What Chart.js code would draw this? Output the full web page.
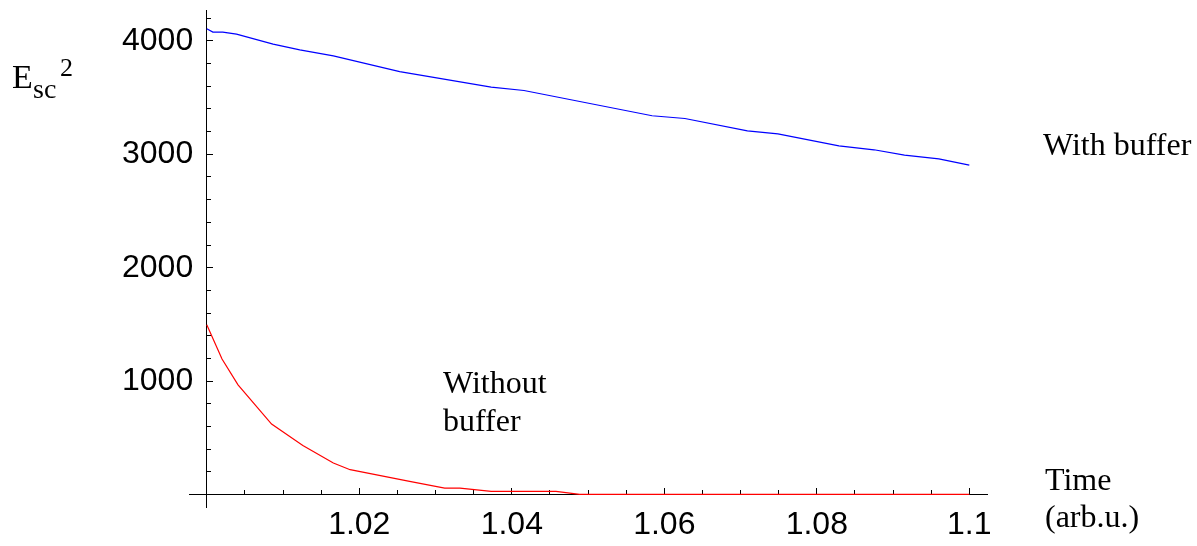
<!DOCTYPE html>
<html>
<head>
<meta charset="utf-8">
<script src="https://cdn.jsdelivr.net/npm/chart.js@4.4.0/dist/chart.umd.min.js"></script>
<style>
  html, body { margin: 0; padding: 0; background: #fff; }
</style>
</head>
<body>
<canvas id="chart" width="1197" height="546"></canvas>
<script>
// E_sc^2 against time, with and without the buffer
const timeWith = [1.0, 1.0008, 1.0021, 1.0039, 1.0087, 1.0122, 1.0166, 1.0253, 1.0373, 1.0416,
  1.0584, 1.0627, 1.0709, 1.0749, 1.0829, 1.0875, 1.0915, 1.0960, 1.1];
const energyWith = [4107, 4078, 4078, 4060, 3972, 3921, 3869, 3730, 3593, 3563,
  3340, 3316, 3207, 3181, 3075, 3040, 2993, 2960, 2905];

const timeWithout = [1.0, 1.0020, 1.0041, 1.0085, 1.0126, 1.0166, 1.0188, 1.0266, 1.0312,
  1.0332, 1.0373, 1.0458, 1.0489, 1.1];
const energyWithout = [1496, 1194, 967, 621, 432, 277, 218, 115, 56, 56, 26, 26, 0, 0];

// axis ticks
const xMajor = [1.0, 1.02, 1.04, 1.06, 1.08, 1.1];
const xMajorLabels = ['', '1.02', '1.04', '1.06', '1.08', '1.1'];
const xMinor = [1.005, 1.01, 1.015, 1.025, 1.03, 1.035, 1.045, 1.05, 1.055,
  1.065, 1.07, 1.075, 1.085, 1.09, 1.095];
const yMajor = [0, 1000, 2000, 3000, 4000];
const yMajorLabels = ['', '1000', '2000', '3000', '4000'];
const yMinor = [200, 400, 600, 800, 1200, 1400, 1600, 1800, 2200, 2400, 2600, 2800,
  3200, 3400, 3600, 3800, 4200];

const X_MIN = 0.99767, X_MAX = 1.10232;
const Y_MIN = -111, Y_MAX = 4273;

const sans = "'Liberation Sans', Arial, sans-serif";
const serif = "'Liberation Serif', 'Times New Roman', serif";

const toPoints = (xs, ys) => xs.map((x, i) => ({ x, y: ys[i] }));
const setTicks = values => scale => { scale.ticks = values.map(value => ({ value })); };

// axis line plus inward tick marks, no labels
function tickAxis(values, length, withBorder, position) {
  return {
    type: 'linear',
    min: 0, max: 0,
    position,
    afterBuildTicks: setTicks(values),
    grid: { display: true, drawOnChartArea: false, tickLength: -length, tickColor: '#000', tickWidth: 1 },
    border: { display: withBorder, color: '#000', width: 1 },
    ticks: { display: false }
  };
}

const xAxis = Object.assign(tickAxis(xMajor, 7, true, { y: 0 }), { min: X_MIN, max: X_MAX });
xAxis.ticks = {
  display: true, autoSkip: false, maxRotation: 0, padding: 22, color: '#000',
  font: { family: sans, size: 32, lineHeight: 1 },
  callback: (v, i) => xMajorLabels[i]
};
const xMinorAxis = Object.assign(tickAxis(xMinor, 4, false, { y: 0 }), { min: X_MIN, max: X_MAX });
const yAxis = Object.assign(tickAxis(yMajor, 7, true, { x: 1.0 }), { min: Y_MIN, max: Y_MAX });
const yMinorAxis = Object.assign(tickAxis(yMinor, 4, false, { x: 1.0 }), { min: Y_MIN, max: Y_MAX });

// left-hand scale that only carries the value labels (mirrored so they are not clipped)
const yLabelAxis = {
  type: 'linear',
  position: 'left',
  min: Y_MIN, max: Y_MAX,
  afterBuildTicks: setTicks(yMajor),
  afterFit: scale => { scale.width = 189; },
  grid: { display: false, drawTicks: false },
  border: { display: false },
  ticks: {
    autoSkip: false, mirror: true, padding: -67, color: '#000',
    font: { family: sans, size: 32, lineHeight: 0.5 },
    callback: (v, i) => yMajorLabels[i]
  }
};

const notes = {
  id: 'notes',
  afterDraw(chart) {
    const ctx = chart.ctx;
    ctx.save();
    ctx.fillStyle = '#000';
    ctx.textAlign = 'left';
    ctx.textBaseline = 'alphabetic';
    ctx.font = `34px ${serif}`;
    ctx.fillText('E', 12, 88);
    ctx.font = `28px ${serif}`;
    ctx.fillText('sc', 33, 98);
    ctx.font = `26px ${serif}`;
    ctx.fillText('2', 60, 76);
    ctx.font = `32px ${serif}`;
    ctx.fillText('With buffer', 1043, 155);
    ctx.fillText('Without', 443, 393);
    ctx.fillText('buffer', 443, 431);
    ctx.fillText('Time', 1045, 490);
    ctx.fillText('(arb.u.)', 1045, 527);
    ctx.restore();
  }
};

new Chart(document.getElementById('chart'), {
  type: 'line',
  data: {
    datasets: [
      {
        label: 'With buffer',
        data: toPoints(timeWith, energyWith),
        borderColor: '#0000ff',
        borderWidth: 1.2,
        pointRadius: 0,
        tension: 0,
        xAxisID: 'x', yAxisID: 'y'
      },
      {
        label: 'Without buffer',
        data: toPoints(timeWithout, energyWithout),
        borderColor: '#ff0000',
        borderWidth: 1.2,
        pointRadius: 0,
        tension: 0,
        xAxisID: 'x', yAxisID: 'y'
      }
    ]
  },
  options: {
    responsive: false,
    animation: false,
    layout: { padding: { left: 0, right: 210, top: 10, bottom: 39 } },
    plugins: { legend: { display: false }, tooltip: { enabled: false } },
    scales: {
      x: xAxis,
      xMinor: xMinorAxis,
      y: yAxis,
      yMinor: yMinorAxis,
      yLabels: yLabelAxis
    }
  },
  plugins: [notes]
});
</script>
</body>
</html>
